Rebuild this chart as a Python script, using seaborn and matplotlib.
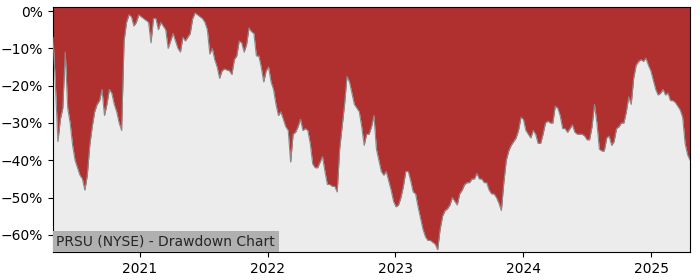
import numpy as np
import pandas as pd
import matplotlib
matplotlib.use("Agg")
import matplotlib.pyplot as plt
import matplotlib.dates as mdates
from matplotlib.ticker import FuncFormatter
import seaborn as sns

title_text = "PRSU (NYSE) - Drawdown Chart"
start_date = "2020-04-28"
# weekly drawdown values (%)
drawdown = [
    -7, -20, -35, -29, -26, -11, -26, -30, -36, -40,
    -42, -44, -45, -48, -44, -36, -31, -27, -25, -24,
    -21, -28, -25, -21, -22, -25, -27, -30, -32, -8,
    -3, -1, -1.5, -4, -3, -1, -1.5, -2, -2.5, -3,
    -8.5, -2, -2, -5, -3, -4, -5, -10, -8, -6,
    -8, -10, -11, -7, -8, -7, -6, -2, -0.5, -1,
    -1.5, -2, -3, -5, -11.5, -10, -13, -15, -18, -16,
    -15.5, -15.8, -16, -17, -13, -12, -8, -8.5, -11, -9,
    -4.5, -5.5, -6, -12, -12, -15, -19, -16, -15, -19,
    -21, -25, -28, -27, -29, -31, -32, -40.5, -33, -32.5,
    -31, -29, -32, -31.5, -32, -35.5, -41, -42, -42, -40.5,
    -39, -43, -46.5, -46.5, -47, -47, -48.5, -37, -31, -25,
    -17.5, -19, -22, -25, -26, -27, -31, -36, -33, -33,
    -31, -28, -37, -40, -43, -44, -43, -45.5, -48, -51,
    -52.5, -52, -50, -47, -43, -43, -45.5, -48.5, -49, -52.5,
    -55.5, -58.5, -60.5, -61.5, -61.5, -62, -62.5, -64, -58.5, -55,
    -53.5, -53, -52, -50, -51, -52, -49, -48, -46.5, -46,
    -46, -45, -45, -43.5, -45, -45, -46, -46, -48, -49,
    -49, -50, -51.5, -53.5, -46, -40, -37.5, -36, -35, -34,
    -32, -28.5, -29, -32, -33, -34, -32, -33, -35.5, -35.5,
    -33, -30, -29.5, -30, -30, -25.5, -26, -28, -31.5, -31.5,
    -32.5, -31.5, -30.5, -32.5, -33, -33, -33, -33.5, -34.5, -34.5,
    -31, -25, -30, -37, -37.5, -37.5, -34, -33.5, -36, -35,
    -31.5, -31, -30, -30, -27, -23, -25, -18, -14.5, -13.5,
    -13, -13.5, -12.6, -14.5, -16, -18.5, -21, -22.5, -22, -21,
    -22.5, -22, -24, -24, -24.5, -25.5, -26.5, -28.5, -35.5, -38.5,
    -40,
]
y_ticks = [0, -10, -20, -30, -40, -50, -60]

dates = pd.date_range(start_date, periods=len(drawdown), freq="7D")
df = pd.DataFrame({"date": dates, "drawdown": drawdown})

sns.set_style("white")
plt.rcParams["font.family"] = ["DejaVu Sans"]

fig = plt.figure(figsize=(7, 2.8), dpi=100)
ax = fig.add_axes([53 / 700, 1 - 252 / 280, 637 / 700, 245 / 280])
ax.set_facecolor("#ececec")

ax.fill_between(df["date"], df["drawdown"], 5, color="#b03030", linewidth=0, zorder=2)
sns.lineplot(data=df, x="date", y="drawdown", ax=ax, color="#8a8a8a", linewidth=0.8, zorder=3)

ax.set_xlim(df["date"].min(), df["date"].max())
ax.set_ylim(-64.6, 1.1)
ax.set_yticks(y_ticks)
ax.yaxis.set_major_formatter(FuncFormatter(lambda v, p: f"{int(round(v))}%".replace("-", "\u2212")))
ax.xaxis.set_major_locator(mdates.YearLocator())
ax.xaxis.set_major_formatter(mdates.DateFormatter("%Y"))
ax.set_xlabel("")
ax.set_ylabel("")
ax.tick_params(axis="both", which="major", length=3.5, width=0.8, labelsize=10, direction="out",
               bottom=True, left=True, colors="black")
for s in ax.spines.values():
    s.set_visible(True)
    s.set_color("black")
    s.set_linewidth(0.8)

ax.annotate(title_text, xy=(0, 0), xycoords="axes fraction",
            xytext=(2.5, 2.5), textcoords="offset points",
            fontsize=10, ha="left", va="bottom", zorder=5,
            bbox=dict(facecolor="#b0b0b0", edgecolor="none", pad=2.5))
fig.savefig("out.png", dpi=100)
